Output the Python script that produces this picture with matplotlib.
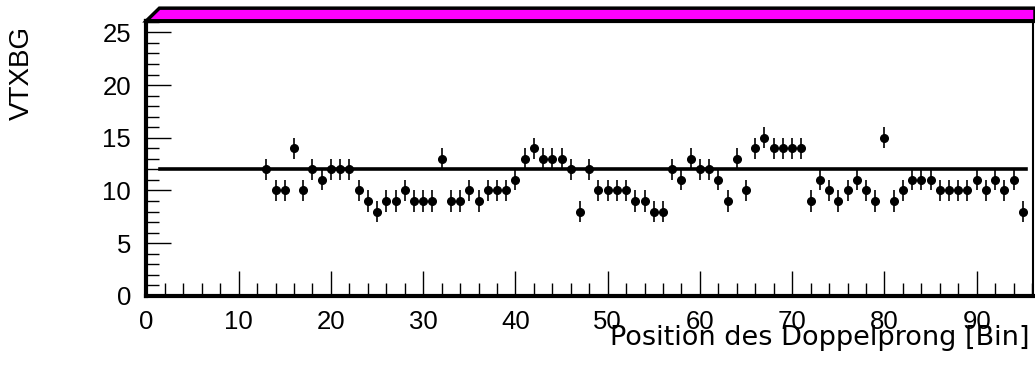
import matplotlib
matplotlib.use("Agg")
import matplotlib.pyplot as plt
from matplotlib.patches import Polygon
from matplotlib.ticker import MultipleLocator

# bin positions and contents
bins = list(range(13, 96))
counts = [12, 10, 10, 14, 10, 12, 11, 12, 12, 12,   # 13-22
          10, 9, 8, 9, 9, 10, 9, 9, 9, 13,          # 23-32
          9, 9, 10, 9, 10, 10, 10, 11, 13, 14,      # 33-42
          13, 13, 13, 12, 8, 12, 10, 10, 10, 10,    # 43-52
          9, 9, 8, 8, 12, 11, 13, 12, 12, 11,       # 53-62
          9, 13, 10, 14, 15, 14, 14, 14, 14, 9,     # 63-72
          11, 10, 9, 10, 11, 10, 9, 15, 9, 10,      # 73-82
          11, 11, 11, 10, 10, 10, 10, 11, 10, 11,   # 83-92
          10, 11, 8]                                # 93-95
errors = [1.0] * len(bins)
fit_level = 12.0
fit_range = [1.5, 95.3]

x_range = [0, 96.1]
y_range = [0, 26.1]

fig = plt.figure(figsize=(10.35, 3.71), dpi=100)
ax = fig.add_axes([0.1415, 0.2025, 0.8565, 0.7415])

ax.errorbar(bins, counts, yerr=errors, fmt='o', color='black', ms=5.5,
            elinewidth=1.2, capsize=0, zorder=3)
ax.plot(fit_range, [fit_level, fit_level], color='black', lw=2.6, zorder=2)

ax.set_xlim(x_range)
ax.set_ylim(y_range)

ax.xaxis.set_major_locator(MultipleLocator(10))
ax.xaxis.set_minor_locator(MultipleLocator(2))
ax.yaxis.set_major_locator(MultipleLocator(5))
ax.yaxis.set_minor_locator(MultipleLocator(1))
ax.tick_params(which='both', direction='in', top=False, right=False,
               labelsize=18.5, width=1, color='black')
ax.tick_params(axis='x', which='major', length=18, pad=10)
ax.tick_params(axis='x', which='minor', length=9.5)
ax.tick_params(axis='y', which='major', length=18, pad=11)
ax.tick_params(axis='y', which='minor', length=9)
for lbl in ax.get_xticklabels() + ax.get_yticklabels():
    lbl.set_family('Liberation Sans')

ax.spines['left'].set_linewidth(3)
ax.spines['bottom'].set_linewidth(3)
ax.spines['right'].set_linewidth(1.5)
ax.spines['top'].set_linewidth(3)

fig.text(0.995, 0.069, 'Position des Doppelprong [Bin]', fontsize=19.5,
         family='DejaVu Sans', ha='right', va='baseline')
fig.text(0.0215, 0.803, 'VTXBG', rotation=90, fontsize=20,
         family='Liberation Sans', ha='center', va='center')

# ROOT style frame border on top
band = Polygon([(0.1415, 0.944), (0.154, 0.978), (1.0, 0.978), (1.0, 0.944)],
               closed=True, transform=fig.transFigure, facecolor='#ff00ff',
               edgecolor='black', lw=2.5, clip_on=False)
fig.patches.append(band)

fig.savefig('out.png', dpi=100)
